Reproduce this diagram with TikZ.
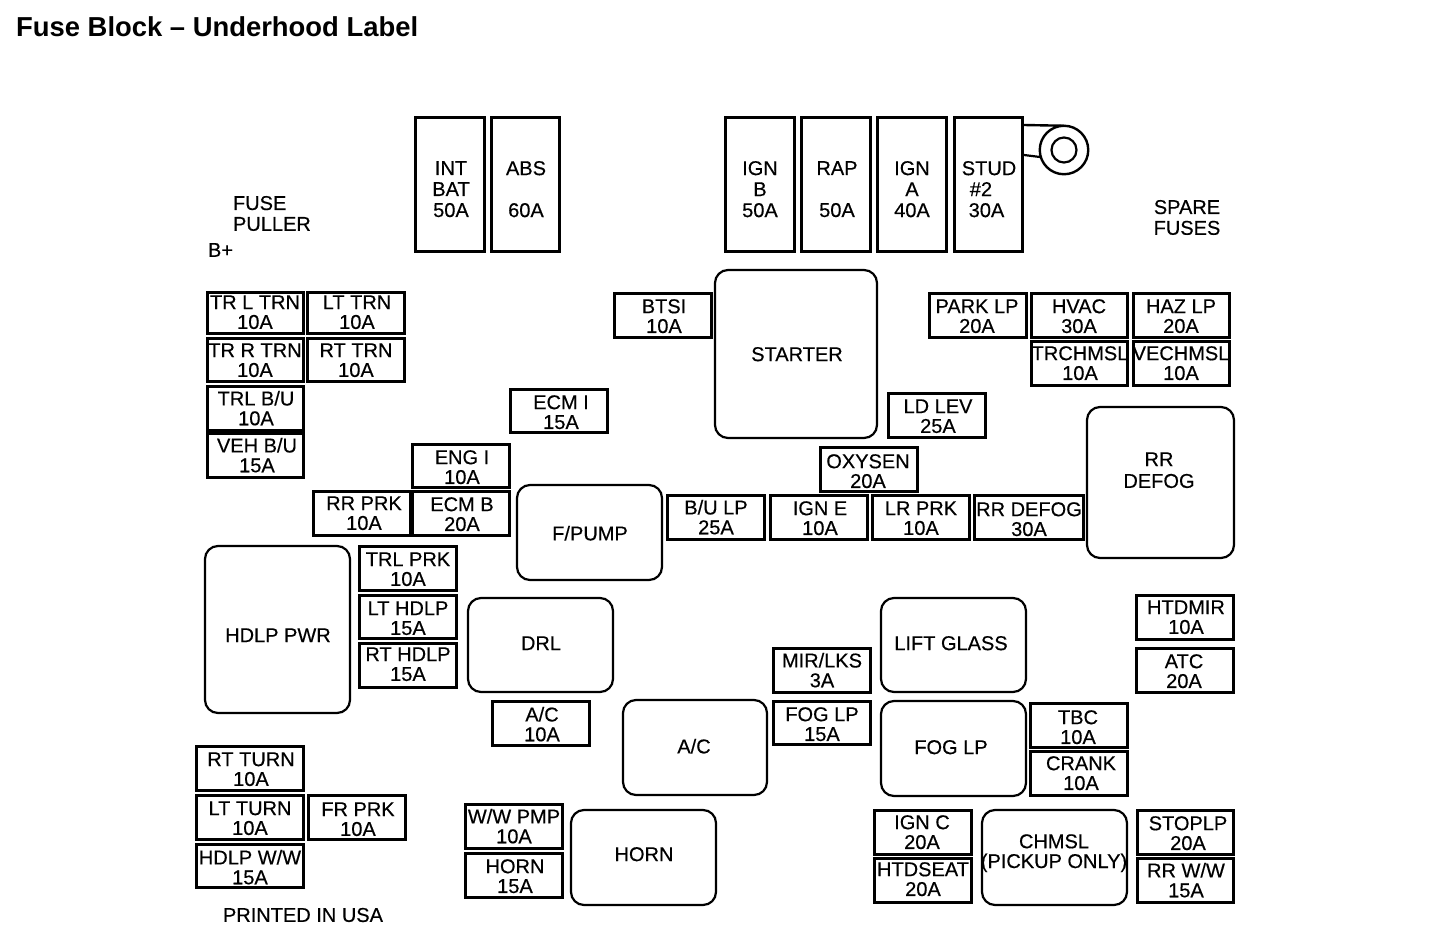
\documentclass[tikz,border=0pt]{standalone}
\usepackage{fontspec}
\setmainfont{Liberation Sans}[UprightFeatures={FakeBold=0.4}]
\tikzset{
  fusebox/.style={draw=black,line width=3pt,rectangle,inner sep=0pt,outer sep=0pt},
  relaybox/.style={draw=black,line width=2.2pt,rectangle,rounded corners=13pt,inner sep=0pt,outer sep=0pt},
  lbl/.style={inner sep=0pt,outer sep=0pt,align=center,text=black,font=\fontsize{20}{19.8}\selectfont},
  free/.style={lbl},
}
\newcommand{\fbx}[8]{%
  \pgfmathsetmacro{\bw}{#4-#2-2}\pgfmathsetmacro{\bh}{#5-#3-2}%
  \pgfmathsetmacro{\bx}{(#2+#4-2)/2}\pgfmathsetmacro{\by}{(#3+#5-2)/2}%
  \node[fusebox,minimum width=\bw pt,minimum height=\bh pt] (#1) at (\bx,\by) {};
  \node[lbl,yshift=-0.2pt] (#1-t) at (#6,#7) {#8};
}
\newcommand{\rbx}[8]{%
  \pgfmathsetmacro{\bw}{#4-#2}\pgfmathsetmacro{\bh}{#5-#3}%
  \pgfmathsetmacro{\bx}{(#2+#4)/2}\pgfmathsetmacro{\by}{(#3+#5)/2}%
  \node[relaybox,minimum width=\bw pt,minimum height=\bh pt] (#1) at (\bx,\by) {};
  \node[lbl,yshift=-0.2pt] (#1-t) at (#6,#7) {#8};
}
\begin{document}
\begin{tikzpicture}[x=1pt,y=-1pt]
\useasboundingbox (0,0) rectangle (1440,944);
\node[anchor=west,inner sep=0pt,font=\fontsize{27.4}{30}\selectfont\bfseries] (title) at (16,26.5) {Fuse Block – Underhood Label};
% large fuses
\fbx{intbat}{415}{118}{486}{253}{451}{189}{INT\\[1.2pt]BAT\\[1.2pt]50A}
\fbx{abs}{491}{118}{561}{253}{526}{189}{ABS\\[1.2pt] \\[1.2pt]60A}
\fbx{ignb}{725}{118}{796}{253}{760}{189}{IGN\\[1.2pt]B\\[1.2pt]50A}
\fbx{rap}{801}{118}{872}{253}{837}{189}{RAP\\[1.2pt] \\[1.2pt]50A}
\fbx{igna}{877}{118}{948}{253}{912}{189}{IGN\\[1.2pt]A\\[1.2pt]40A}
\fbx{stud}{954}{118}{1024}{253}{989}{189}{STUD\\[1.2pt]\hspace*{-16pt}\#2\\[1.2pt]\hspace*{-5pt}30A}
\node[circle,draw=black,line width=2.4pt,minimum size=48.5pt,inner sep=0pt,outer sep=0pt] (ring) at (1064,150) {};
\node[circle,draw=black,line width=2.2pt,minimum size=25pt,inner sep=0pt,outer sep=0pt] (ringin) at (1064,150) {};
\coordinate (sa) at (1024,125);
\coordinate (sb) at (1024,155);
\draw[line width=2.4pt] (sa) -- (ring.north);
\draw[line width=2.2pt] (sb) -- (ring.197);
% small fuses, left
\fbx{trl}{207}{292}{305}{335}{255}{312}{TR L TRN\\10A}
\fbx{lttrn}{307}{292}{406}{335}{357}{312}{LT TRN\\10A}
\fbx{trr}{207}{338}{305}{383}{255}{360}{TR R TRN\\10A}
\fbx{rttrn}{307}{338}{406}{383}{356}{360}{RT TRN\\10A}
\fbx{trlbu}{207}{386}{305}{432}{256}{408}{TRL B/U\\10A}
\fbx{vehbu}{207}{433}{305}{479}{257}{455}{VEH B/U\\15A}
\fbx{btsi}{614}{293}{713}{339}{664}{316}{BTSI\\10A}
\fbx{ecmi}{510}{389}{609}{434}{561}{412}{ECM I\\15A}
\fbx{engi}{412}{444}{511}{489}{462}{467}{ENG I\\10A}
\fbx{rrprk}{313}{491}{412}{537}{364}{513}{RR PRK\\10A}
\fbx{ecmb}{412}{491}{511}{537}{462}{514}{ECM B\\20A}
\fbx{trlprk}{359}{546}{458}{592}{408}{569}{TRL PRK\\10A}
\fbx{lthdlp}{359}{595}{458}{640}{408}{618}{LT HDLP\\15A}
\fbx{rthdlp}{359}{643}{458}{689}{408}{664}{RT HDLP\\15A}
% middle row
\fbx{bulp}{667}{495}{766}{541}{716}{517}{B/U LP\\25A}
\fbx{igne}{770}{495}{869}{541}{820}{518}{IGN E\\10A}
\fbx{lrprk}{872}{495}{971}{541}{921}{518}{LR PRK\\10A}
\fbx{rrdefogf}{974}{495}{1085}{541}{1029}{519}{RR DEFOG\\30A}
\fbx{oxysen}{820}{447}{919}{493}{868}{471}{OXYSEN\\20A}
\fbx{ldlev}{888}{393}{987}{439}{938}{416}{LD LEV\\25A}
% upper right
\fbx{parklp}{929}{293}{1028}{339}{977}{316}{PARK LP\\20A}
\fbx{hvac}{1031}{293}{1129}{339}{1079}{316}{HVAC\\30A}
\fbx{hazlp}{1133}{293}{1231}{339}{1181}{316}{HAZ LP\\20A}
\fbx{trchmsl}{1031}{341}{1129}{387}{1080}{363}{TRCHMSL\\10A}
\fbx{vechmsl}{1133}{341}{1231}{387}{1181}{363}{VECHMSL\\10A}
% lower right
\fbx{htdmir}{1136}{595}{1235}{641}{1186}{617}{HTDMIR\\10A}
\fbx{atc}{1136}{648}{1235}{694}{1184}{671}{ATC\\20A}
\fbx{mirlks}{773}{648}{872}{694}{822}{670}{MIR/LKS\\3A}
\fbx{foglpf}{773}{701}{872}{746}{822}{724}{FOG LP\\15A}
\fbx{acf}{492}{701}{591}{747}{542}{724}{A/C\\10A}
\fbx{tbc}{1030}{703}{1129}{749}{1078}{727}{TBC\\10A}
\fbx{crank}{1030}{751}{1129}{797}{1081}{773}{CRANK\\10A}
% bottom
\fbx{rtturn}{196}{746}{305}{792}{251}{769}{RT TURN\\10A}
\fbx{ltturn}{196}{795}{305}{841}{250}{818}{LT TURN\\10A}
\fbx{frprk}{308}{795}{407}{841}{358}{819}{FR PRK\\10A}
\fbx{hdlpww}{196}{844}{305}{889}{250}{867}{HDLP W/W\\15A}
\fbx{wwpmp}{465}{804}{564}{850}{514}{826}{W/W PMP\\10A}
\fbx{hornf}{465}{853}{564}{899}{515}{876}{HORN\\15A}
\fbx{ignc}{874}{810}{973}{856}{922}{832}{IGN C\\20A}
\fbx{htdseat}{874}{858}{973}{904}{923}{879}{HTDSEAT\\20A}
\fbx{stoplp}{1137}{810}{1235}{856}{1188}{833}{STOPLP\\20A}
\fbx{rrww}{1137}{858}{1235}{904}{1186}{880}{RR W/W\\15A}
% relays
\rbx{starter}{715}{270}{877}{438}{797}{354}{STARTER}
\rbx{rrdefog}{1087}{407}{1234}{558}{1159}{470}{RR\\[2pt]DEFOG}
\rbx{fpump}{517}{485}{662}{580}{590}{533}{F/PUMP}
\rbx{hdlppwr}{205}{546}{350}{713}{278}{635}{HDLP PWR}
\rbx{drl}{468}{598}{613}{692}{541}{643}{DRL}
\rbx{liftglass}{881}{598}{1026}{692}{951}{643}{LIFT GLASS}
\rbx{acr}{623}{700}{767}{795}{694}{746}{A/C}
\rbx{foglpr}{881}{701}{1026}{796}{951}{747}{FOG LP}
\rbx{hornr}{571}{810}{716}{905}{644}{854}{HORN}
\rbx{chmsl}{982}{810}{1127}{905}{1054}{853}{CHMSL\\(PICKUP ONLY)}
% free texts
\node[free,align=left,anchor=west] (puller) at (233,213.5) {FUSE\\[1pt]PULLER};
\node[free,anchor=west] (bplus) at (208,250) {B+};
\node[free] (spare) at (1187,217.5) {SPARE\\[1pt]FUSES};
\node[free] (printed) at (303,915) {PRINTED IN USA};
\end{tikzpicture}
\end{document}
